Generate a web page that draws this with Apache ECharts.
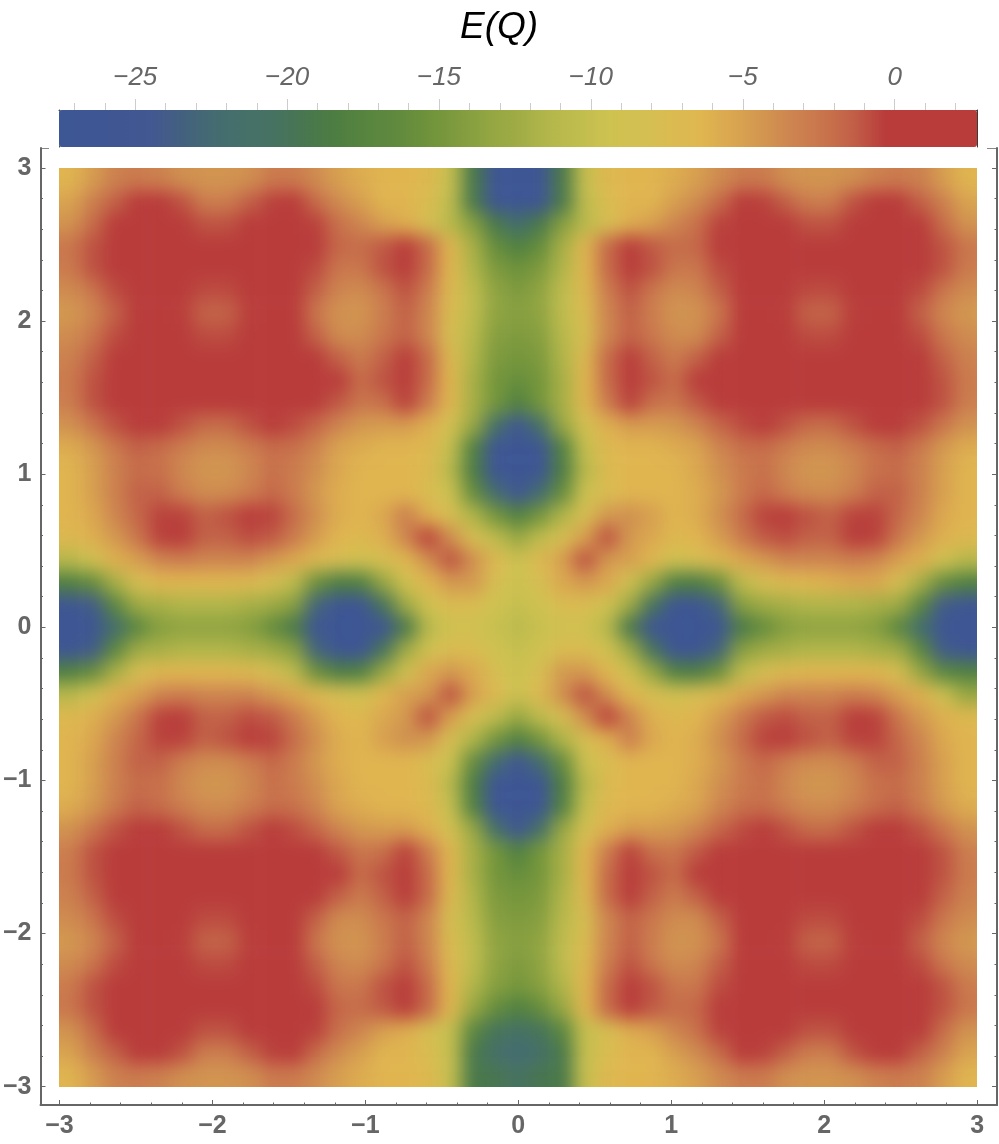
<!DOCTYPE html>
<html><head><meta charset="utf-8">
<style>html,body{margin:0;padding:0;background:#fff}#c{width:999px;height:1144px}</style>
<script src="https://cdn.jsdelivr.net/npm/echarts@6/dist/echarts.min.js"></script>
</head><body><div id="c"></div>
<script>
const qCategories=[-3.07,-2.93,-2.78,-2.63,-2.49,-2.34,-2.20,-2.05,-1.90,-1.76,-1.61,-1.46,-1.32,-1.17,-1.02,-0.88,-0.73,-0.59,-0.44,-0.29,-0.15,0,0.15,0.29,0.44,0.59,0.73,0.88,1.02,1.17,1.32,1.46,1.61,1.76,1.90,2.05,2.20,2.34,2.49,2.63,2.78,2.93,3.07];
const frameTicks=[-3,-2,-1,0,1,2,3];
const frameMinorTicks=[-2.8,-2.6,-2.4,-2.2,-1.8,-1.6,-1.4,-1.2,-0.8,-0.6,-0.4,-0.2,0.2,0.4,0.6,0.8,1.2,1.4,1.6,1.8,2.2,2.4,2.6,2.8];
const barTicks=[-25,-20,-15,-10,-5,0];
const barMinorTicks=[-27,-26,-24,-23,-22,-21,-19,-18,-17,-16,-14,-13,-12,-11,-9,-8,-7,-6,-4,-3,-2,-1,1,2];
const palette=['#3D5694','#3E5694','#405693','#425892','#43607F','#446B72','#457069','#467262','#48764F','#4D7D42','#57853F','#60893E','#6E923B','#7F9B3E','#92A542','#A0AC45','#B3B74B','#C0BD4E','#CEC251','#D3C052','#DABB51','#E0B650','#DAA650','#D29650','#CD8350','#C9744C','#C15E47','#B93C3B','#B93B3A','#B93B3A','#B93B3A'];
// E(Q), rows from the top of the plot (Qy = +2.93) to the bottom (Qy = -2.93)
const energyRows=[
[-6.3,-4.8,-3.2,-2.8,-3.2,-4,-4.3,-4.3,-4,-2.8,-2.8,-3.8,-5,-5.8,-6.3,-6.3,-6.8,-10,-19,-26,-27,-26,-19,-10,-6.8,-6.3,-6.3,-5.8,-5,-3.8,-2.8,-2.8,-4,-4.3,-4.3,-4,-3.2,-2.8,-3.2,-4.8,-6.3],
[-5.2,-3.2,-1.5,-.3,0,-1,-3,-3,-1.5,-.5,-.3,-2,-3.8,-5,-6.3,-6.3,-7.5,-10.5,-19,-26,-27.5,-26,-19,-10.5,-7.5,-6.3,-6.3,-5,-3.8,-2,-.3,-.5,-1.5,-3,-3,-1,0,-.3,-1.5,-3.2,-5.2],
[-4.2,-2,-.3,0,0,0,-1,-1,0,0,0,-.5,-2.2,-3.5,-5,-5.8,-8,-11,-14,-19,-22,-19,-14,-11,-8,-5.8,-5,-3.5,-2.2,-.5,0,0,0,-1,-1,0,0,0,-.3,-2,-4.2],
[-2.5,-1,0,0,0,0,0,0,0,0,0,-.3,-1.8,-2,-1.2,0,-2,-6.5,-12,-16,-18,-16,-12,-6.5,-2,0,-1.2,-2,-1.8,-.3,0,0,0,0,0,0,0,0,0,-1,-2.5],
[-2.8,-1,0,0,0,0,0,0,0,0,0,-.8,-2.5,-2.5,-1,0,-2,-6.5,-11.5,-14.5,-15.5,-14.5,-11.5,-6.5,-2,0,-1,-2.5,-2.5,-.8,0,0,0,0,0,0,0,0,0,-1,-2.8],
[-3.8,-2.5,-.8,0,0,0,-.8,-.8,0,0,0,-1.5,-3.5,-3.8,-2.5,-1,-3,-7,-10.5,-13.5,-14.5,-13.5,-10.5,-7,-3,-1,-2.5,-3.8,-3.5,-1.5,0,0,0,-.8,-.8,0,0,0,-.8,-2.5,-3.8],
[-4.5,-3.5,-1.5,0,0,-.4,-1.6,-1.6,-.4,0,0,-2.5,-4.2,-4.3,-3,-1.5,-3.5,-7.5,-10.5,-13.5,-14,-13.5,-10.5,-7.5,-3.5,-1.5,-3,-4.3,-4.2,-2.5,0,0,-.4,-1.6,-1.6,-.4,0,0,-1.5,-3.5,-4.5],
[-3.8,-2.5,-.8,0,0,0,-.8,-.8,0,0,0,-1.5,-3.8,-3.8,-2.5,-1.5,-3.5,-8,-11,-14,-14.5,-14,-11,-8,-3.5,-1.5,-2.5,-3.8,-3.8,-1.5,0,0,0,-.8,-.8,0,0,0,-.8,-2.5,-3.8],
[-3.2,-1.5,-.2,0,0,0,0,0,0,0,0,0,-1.5,-2.8,-1.5,0,-2,-7,-11.5,-14.5,-15,-14.5,-11.5,-7,-2,0,-1.5,-2.8,-1.5,0,0,0,0,0,0,0,0,0,-.2,-1.5,-3.2],
[-2.8,-1,0,0,0,0,0,0,0,0,0,0,-.3,-2,-1,0,-2,-6.5,-12,-15,-16,-15,-12,-6.5,-2,0,-1,-2,-.3,0,0,0,0,0,0,0,0,0,0,-1,-2.8],
[-3,-1,0,0,0,0,-.2,-.2,0,0,0,0,-1.2,-2.5,-2.2,-.5,-3,-6.5,-12,-15,-18,-15,-12,-6.5,-3,-.5,-2.2,-2.5,-1.2,0,0,0,0,-.2,-.2,0,0,0,0,-1,-3],
[-4.2,-2.5,-1,0,-.2,-1,-2,-2,-1,-.2,-.8,-1.8,-3.5,-4.5,-4.8,-4.8,-6,-8.5,-13,-21,-25,-21,-13,-8.5,-6,-4.8,-4.8,-4.5,-3.5,-1.8,-.8,-.2,-1,-2,-2,-1,-.2,0,-1,-2.5,-4.2],
[-5.8,-4.5,-2.8,-1.5,-2,-3,-3.8,-3.8,-3,-2,-2.2,-3.5,-5.2,-5.8,-6.3,-6.3,-6.8,-10,-18,-26.5,-27.5,-26.5,-18,-10,-6.8,-6.3,-6.3,-5.8,-5.2,-3.5,-2.2,-2,-3,-3.8,-3.8,-3,-2,-1.5,-2.8,-4.5,-5.8],
[-6.3,-5,-3.2,-2,-2.2,-3.6,-4.4,-4.4,-3.6,-2.2,-2.8,-4,-5.5,-6.3,-6.3,-6.3,-7.2,-11,-18.5,-26.5,-27.5,-26.5,-18.5,-11,-7.2,-6.3,-6.3,-6.3,-5.5,-4,-2.8,-2.2,-3.6,-4.4,-4.4,-3.6,-2.2,-2,-3.2,-5,-6.3],
[-6.3,-5,-3.2,-1.5,-1.5,-3,-3.8,-3.8,-3,-1.8,-2.8,-4.5,-5.8,-6.3,-6.3,-6.3,-7.5,-9.5,-16,-22,-25,-22,-16,-9.5,-7.5,-6.3,-6.3,-6.3,-5.8,-4.5,-2.8,-1.8,-3,-3.8,-3.8,-3,-1.5,-1.5,-3.2,-5,-6.3],
[-6.3,-5.5,-3.5,-1.8,-.5,-.5,-1.5,-1,-.3,-.5,-2,-4,-5.8,-6.3,-5.5,-3,-6,-8,-11.5,-15,-18,-15,-11.5,-8,-4.5,-4,-5,-6.3,-5.8,-4,-2,-.5,-.3,-1,-1.5,-.5,-.5,-1.8,-3.5,-5.5,-6.3],
[-6.8,-6,-4.5,-2.5,-.5,-.3,-1.5,-1.5,-.8,-1.2,-2.8,-4.8,-6.3,-6.8,-6,-3.5,-.5,-4,-8,-10.5,-13,-10.5,-8,-5,-1,-4.5,-5.5,-6.8,-6.3,-4.8,-2.8,-1.2,-.8,-1.5,-1.5,-.3,-.5,-2.5,-4.5,-6,-6.8],
[-11,-9,-6,-5,-3.5,-3,-3.5,-3.5,-3.5,-4.5,-5.5,-7,-8,-9,-8,-6.5,-4,-1,-4,-7,-9.5,-7,-5,-1,-4.5,-5,-6.5,-9,-8,-7,-5.5,-4.5,-3.5,-3.5,-3.5,-3,-3.5,-5,-6,-9,-11],
[-18,-16,-12,-8,-6.5,-6.5,-6.5,-6.5,-7,-8,-10.5,-15.5,-18.5,-18,-13,-9,-6.5,-4.5,-4.5,-8,-9.5,-8,-5.5,-4.5,-5.5,-9,-13,-18,-18.5,-15.5,-10.5,-8,-7,-6.5,-6,-5.5,-5.5,-8,-12,-16,-18],
[-26,-24,-17,-12.5,-12,-11.5,-11.5,-11.5,-12,-12.5,-14,-23,-27,-27,-20,-12.5,-9,-7.5,-7.5,-9.2,-10,-9.2,-7.5,-7.5,-9,-12.5,-20,-27,-27,-23,-14,-12.5,-12,-11.5,-11.5,-11.5,-12,-12.5,-17,-24,-26],
[-27,-27,-22,-17,-14,-13.5,-13.5,-13.5,-14,-16,-19,-26,-27.5,-27,-26,-19,-11,-9,-9,-9.8,-10.8,-9.8,-9,-9,-11,-19,-26,-27,-27.5,-26,-19,-16,-14,-13.5,-13.5,-13.5,-14,-17,-22,-27,-27],
[-26,-24,-17,-12.5,-12,-11.5,-11.5,-11.5,-12,-12.5,-14,-23,-27,-27,-20,-12.5,-9,-7.5,-7.5,-9.2,-10,-9.2,-7.5,-7.5,-9,-12.5,-20,-27,-27,-23,-14,-12.5,-12,-11.5,-11.5,-11.5,-12,-12.5,-17,-24,-26],
[-18,-16,-12,-8,-6.5,-6.5,-6.5,-6.5,-7,-8,-10.5,-15.5,-18.5,-18,-13,-9,-5.5,-4.5,-5.5,-8,-9.5,-8,-4.5,-4.5,-6.5,-9,-13,-18,-18.5,-15.5,-10.5,-8,-7,-6.5,-6.5,-6.5,-6.5,-8,-13,-17,-18],
[-11,-9,-6,-5,-3.5,-3,-3.5,-3.5,-3.5,-4.5,-5.5,-7,-8,-9,-6.5,-5,-4.5,-1,-5,-7,-9.5,-7,-4,-1,-4,-6.5,-8,-9,-8,-7,-5.5,-4.5,-3.5,-3.5,-3.5,-3,-3.5,-5,-6,-9.5,-13],
[-6.8,-6,-4.5,-2.5,-.5,-.3,-1.5,-1.5,-.8,-1.2,-2.8,-4.8,-6.3,-6.8,-5.5,-4.5,-1,-5,-8,-10.5,-13,-10.5,-8,-4,-.5,-3.5,-6,-6.8,-6.3,-4.8,-2.8,-1.2,-.8,-1.5,-1.5,-.3,-.5,-2.5,-4.5,-6,-6.8],
[-6.3,-5.5,-3.5,-1.8,-.5,-.5,-1.5,-1,-.3,-.5,-2,-4,-5.8,-6.3,-5,-4,-4.5,-8,-11.5,-15,-18,-15,-11.5,-8,-6,-3,-5.5,-6.3,-5.8,-4,-2,-.5,-.3,-1,-1.5,-.5,-.5,-1.8,-3.5,-5.5,-6.3],
[-6.3,-5,-3.2,-1.5,-1.5,-3,-3.8,-3.8,-3,-1.8,-2.8,-4.5,-5.8,-6.3,-6.3,-6.3,-7.5,-9.5,-16,-22,-25,-22,-16,-9.5,-7.5,-6.3,-6.3,-6.3,-5.8,-4.5,-2.8,-1.8,-3,-3.8,-3.8,-3,-1.5,-1.5,-3.2,-5,-6.3],
[-6.3,-5,-3.2,-2,-2.2,-3.6,-4.4,-4.4,-3.6,-2.2,-2.8,-4,-5.5,-6.3,-6.3,-6.3,-7.2,-11,-18.5,-26.5,-27.5,-26.5,-18.5,-11,-7.2,-6.3,-6.3,-6.3,-5.5,-4,-2.8,-2.2,-3.6,-4.4,-4.4,-3.6,-2.2,-2,-3.2,-5,-6.3],
[-5.8,-4.5,-2.8,-1.5,-2,-3,-3.8,-3.8,-3,-2,-2.2,-3.5,-5.2,-5.8,-6.3,-6.3,-6.8,-10,-18,-26.5,-27.5,-26.5,-18,-10,-6.8,-6.3,-6.3,-5.8,-5.2,-3.5,-2.2,-2,-3,-3.8,-3.8,-3,-2,-1.5,-2.8,-4.5,-5.8],
[-4.2,-2.5,-1,0,-.2,-1,-2,-2,-1,-.2,-.8,-1.8,-3.5,-4.5,-4.8,-4.8,-6,-8.5,-13,-21,-25,-21,-13,-8.5,-6,-4.8,-4.8,-4.5,-3.5,-1.8,-.8,-.2,-1,-2,-2,-1,-.2,0,-1,-2.5,-4.2],
[-3,-1,0,0,0,0,-.2,-.2,0,0,0,0,-1.2,-2.5,-2.2,-.5,-3,-6.5,-12,-15,-18,-15,-12,-6.5,-3,-.5,-2.2,-2.5,-1.2,0,0,0,0,-.2,-.2,0,0,0,0,-1,-3],
[-2.8,-1,0,0,0,0,0,0,0,0,0,0,-.3,-2,-1,0,-2,-6.5,-12,-15,-16,-15,-12,-6.5,-2,0,-1,-2,-.3,0,0,0,0,0,0,0,0,0,0,-1,-2.8],
[-3.2,-1.5,-.2,0,0,0,0,0,0,0,0,0,-1.5,-2.8,-1.5,0,-2,-7,-11.5,-14.5,-15,-14.5,-11.5,-7,-2,0,-1.5,-2.8,-1.5,0,0,0,0,0,0,0,0,0,-.2,-1.5,-3.2],
[-3.8,-2.5,-.8,0,0,0,-.8,-.8,0,0,0,-1.5,-3.8,-3.8,-2.5,-1.5,-3.5,-8,-11,-14,-14.5,-14,-11,-8,-3.5,-1.5,-2.5,-3.8,-3.8,-1.5,0,0,0,-.8,-.8,0,0,0,-.8,-2.5,-3.8],
[-4.5,-3.5,-1.5,0,0,-.4,-1.6,-1.6,-.4,0,0,-2.5,-4.2,-4.3,-3,-1.5,-3.5,-7.5,-10.5,-13.5,-14,-13.5,-10.5,-7.5,-3.5,-1.5,-3,-4.3,-4.2,-2.5,0,0,-.4,-1.6,-1.6,-.4,0,0,-1.5,-3.5,-4.5],
[-3.8,-2.5,-.8,0,0,0,-.8,-.8,0,0,0,-1.5,-3.5,-3.8,-2.5,-1,-3,-7,-10.5,-13.5,-14.5,-13.5,-10.5,-7,-3,-1,-2.5,-3.8,-3.5,-1.5,0,0,0,-.8,-.8,0,0,0,-.8,-2.5,-3.8],
[-2.8,-1,0,0,0,0,0,0,0,0,0,-.8,-2.5,-2.5,-1,0,-2,-6.5,-11.5,-14,-15,-14,-11.5,-6.5,-2,0,-1,-2.5,-2.5,-.8,0,0,0,0,0,0,0,0,0,-1,-2.8],
[-2.5,-1,0,0,0,0,0,0,0,0,0,-.3,-1.8,-2,-1.2,0,-2,-6.5,-13,-16,-18,-16,-13,-6.5,-2,0,-1.2,-2,-1.8,-.3,0,0,0,0,0,0,0,0,0,-1,-2.5],
[-4.2,-2,-.3,0,0,0,-1,-1,0,0,0,-.5,-2.2,-3.5,-5,-5.8,-8,-10,-17,-20,-21,-20,-17,-10,-8,-5.8,-5,-3.5,-2.2,-.5,0,0,0,-1,-1,0,0,0,-.3,-2,-4.2],
[-5.2,-3.2,-1.5,-.3,0,-1,-3,-3,-1.5,-.5,-.3,-2,-3.8,-5,-6.3,-6.3,-7.5,-10,-19,-21.5,-22.5,-21.5,-19,-10,-7.5,-6.3,-6.3,-5,-3.8,-2,-.3,-.5,-1.5,-3,-3,-1,0,-.3,-1.5,-3.2,-5.2],
[-6.3,-4.8,-3.2,-2.8,-3.2,-4,-4.3,-4.3,-4,-2.8,-2.8,-3.8,-5,-5.8,-6.3,-6.3,-6.8,-10,-19,-19.5,-20.5,-19.5,-19,-10,-6.8,-6.3,-6.3,-5.8,-5,-3.8,-2.8,-2.8,-4,-4.3,-4.3,-4,-3.2,-2.8,-3.2,-4.8,-6.3]
];
// The plot is clipped at |Q| = 3; the samples just outside it repeat the nearest edge sample so the smoothing stays solid up to the edge.
const lastIndex=energyRows.length-1;
const clampIndex=k=>Math.max(0,Math.min(lastIndex,k));
const heatData=[];
for(let j=-1;j<=lastIndex+1;j++)for(let i=-1;i<=lastIndex+1;i++)heatData.push([i+1,lastIndex-j+1,energyRows[clampIndex(j)][clampIndex(i)]]);
const minus=v=>String(v).replace('-','\u2212');
const GREY='#666',FONT='"Liberation Sans",Arial,sans-serif',TOP=2;
const CELL=918/41;
const frameBase={gridIndex:1,type:'value',min:-3.124,max:3.13,splitLine:{show:false},zlevel:TOP};
const frameY={gridIndex:1,type:'value',min:-3.12,max:3.13,splitLine:{show:false},zlevel:TOP};
const off={show:false};
function majorAxis(base,pos,labels){return Object.assign({},base,{position:pos,
  axisLine:{show:true,onZero:false,lineStyle:{color:GREY,width:2}},
  axisTick:{show:true,inside:true,length:5,customValues:frameTicks,lineStyle:{color:GREY,width:1}},
  axisLabel:labels?{show:true,customValues:frameTicks,formatter:minus,margin:9,fontFamily:FONT,fontWeight:'bold',fontSize:25,color:GREY}:off});}
function minorAxis(base,pos){return Object.assign({},base,{position:pos,
  axisLine:{show:false,onZero:false},
  axisTick:{show:true,inside:true,length:2.5,customValues:frameMinorTicks,lineStyle:{color:GREY,width:1}},
  axisLabel:off});}
const barX={gridIndex:2,type:'value',position:'top',min:-27.51,max:2.71,splitLine:{show:false},zlevel:TOP};
const barY={gridIndex:2,type:'value',min:0,max:1,splitLine:{show:false},zlevel:TOP,axisTick:off,axisLabel:off};
const chart=echarts.init(document.getElementById('c'),null,{renderer:'canvas'});
chart.setOption({
  animation:false,backgroundColor:'transparent',
  title:{text:'E(Q)',left:494,top:4,textAlign:'center',zlevel:TOP,textStyle:{fontFamily:FONT,fontStyle:'italic',fontWeight:'normal',fontSize:37,color:'#000'}},
  grid:[
    {left:59-CELL,top:168-CELL,width:918+2*CELL,height:919+2*CELL,zlevel:1},
    {left:40,top:148,width:957,height:957,zlevel:TOP},
    {left:59,top:110,width:918,height:37,zlevel:TOP}
  ],
  xAxis:[
    {gridIndex:0,type:'category',data:qCategories,show:false},
    majorAxis(frameBase,'bottom',true),
    minorAxis(frameBase,'bottom'),
    Object.assign({},barX,{axisLine:{show:true,onZero:false,lineStyle:{color:'#3a3a3a',width:1}},
      axisTick:{show:true,length:11,customValues:barTicks,lineStyle:{color:'#ccc',width:1}},
      axisLabel:{show:true,customValues:barTicks,formatter:minus,margin:19,fontFamily:FONT,fontStyle:'italic',fontSize:26,color:GREY}}),
    Object.assign({},barX,{axisLine:{show:false,onZero:false},
      axisTick:{show:true,length:7,customValues:barMinorTicks,lineStyle:{color:'#ccc',width:1}},axisLabel:off})
  ],
  yAxis:[
    {gridIndex:0,type:'category',data:qCategories,show:false},
    majorAxis(frameY,'left',true),
    minorAxis(frameY,'left'),
    majorAxis(frameY,'right',false),
    minorAxis(frameY,'right'),
    Object.assign({},barY,{position:'left',axisLine:{show:true,onZero:false,lineStyle:{color:'#3a3a3a',width:1}}}),
    Object.assign({},barY,{position:'right',axisLine:{show:true,onZero:false,lineStyle:{color:'#3a3a3a',width:1}}})
  ],
  visualMap:{type:'continuous',min:-27.51,max:2.71,dimension:2,seriesIndex:0,orient:'horizontal',left:59,top:110,itemWidth:37,itemHeight:918,padding:0,
    calculable:false,hoverLink:false,text:null,showLabel:false,zlevel:TOP,z:1,inRange:{color:palette}},
  graphic:[
    {type:'line',zlevel:TOP,shape:{x1:40,y1:148.5,x2:49,y2:148.5},style:{stroke:'#888',lineWidth:1},silent:true},
    {type:'line',zlevel:TOP,shape:{x1:987,y1:148.5,x2:997,y2:148.5},style:{stroke:'#888',lineWidth:1},silent:true}
  ],
  series:[{type:'heatmap',xAxisIndex:0,yAxisIndex:0,data:heatData,progressive:0,animation:false,emphasis:{disabled:true},itemStyle:{borderWidth:0},zlevel:1}]
});
function softenHeat(){
  const layer=chart.getDom().querySelector('canvas[data-zr-dom-id="zr_1"]');
  if(layer){layer.style.filter='blur(9px)';layer.style.clipPath='inset(168px 22px 57px 59px)';}
}
softenHeat();
chart.on('finished',softenHeat);
</script></body></html>
